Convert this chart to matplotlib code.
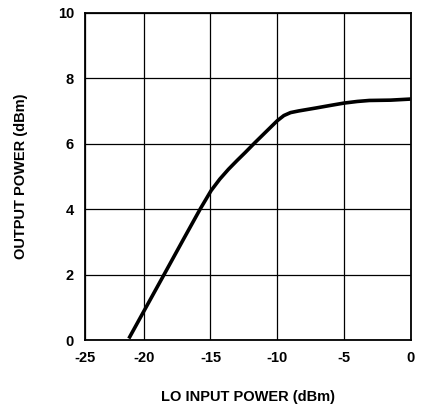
import matplotlib
matplotlib.use("Agg")
import matplotlib.pyplot as plt

lo_input_dbm = [-21.05, -20.2, -18.55, -17.0, -15.75, -14.95, -14.3, -13.65, -13.0, -12.4,
                -11.7, -11.0, -10.5, -10.0, -9.5, -9.0, -8.4, -7.1, -6.0, -5.0,
                -4.0, -3.1, -1.5, -0.15]
output_dbm = [0.1, 0.73, 1.95, 3.1, 4.02, 4.57, 4.92, 5.22, 5.49, 5.73,
              6.02, 6.3, 6.5, 6.7, 6.86, 6.95, 7.0, 7.09, 7.17, 7.24,
              7.29, 7.32, 7.33, 7.36]

x_tick_pos = [-24.4, -20, -15, -10, -5, 0]
x_tick_labels = ["-25", "-20", "-15", "-10", "-5", "0"]
y_ticks = [0, 2, 4, 6, 8, 10]
y_tick_labels = ["0", "2", "4", "6", "8", "10"]

plt.rcParams['font.family'] = ['Liberation Sans', 'DejaVu Sans']
plt.rcParams['font.weight'] = 'bold'

fig = plt.figure(figsize=(4.24, 4.08), dpi=100)
ax = fig.add_axes([85/424, (408-340.2)/408, (410.7-85)/424, (340.2-12.7)/408])

ax.plot(lo_input_dbm, output_dbm, color='black', lw=2.6, solid_joinstyle='round')
ax.set_xlim(-24.4, 0)
ax.set_ylim(0, 10)
ax.set_xticks(x_tick_pos)
ax.set_xticklabels(x_tick_labels, fontsize=10.5, fontweight='bold')
ax.set_yticks(y_ticks)
ax.set_yticklabels(y_tick_labels, fontsize=10.5, fontweight='bold')
ax.tick_params(length=0, pad=7.5)
ax.tick_params(axis='y', pad=8)
ax.grid(True, color='black', lw=0.9)
for s in ax.spines.values():
    s.set_linewidth(1.3)
    s.set_color('black')

ax.set_xlabel("LO INPUT POWER (dBm)", fontsize=10.5, fontweight='bold', labelpad=18)
ax.set_ylabel("OUTPUT POWER (dBm)", fontsize=10.5, fontweight='bold', labelpad=21)

fig.savefig("out.png", dpi=100)
